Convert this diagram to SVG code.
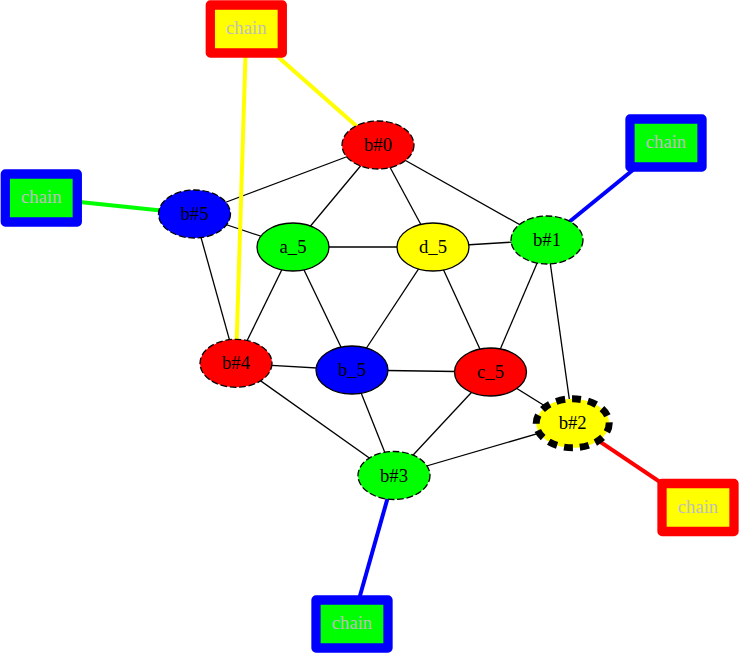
<svg xmlns="http://www.w3.org/2000/svg" width="739" height="653" viewBox="0 0 739 653">
<style>
.e{stroke:#000;stroke-width:1.3;fill:none}
.ce{stroke-width:4;fill:none}
.n ellipse{stroke:#000;stroke-width:1.3}
.d ellipse{stroke-dasharray:6.7,2.7}
.box rect{stroke-width:9.3;stroke-linejoin:round}
.t text{font-family:'Liberation Serif',serif;font-size:18.67px;text-anchor:middle}
.box text{fill:#bebebe}
</style>
<rect width="739" height="653" fill="#fff"/>
<g id="edges">
<line class="e" x1="378" y1="145" x2="194.5" y2="214"/>
<line class="e" x1="378" y1="145" x2="293" y2="247"/>
<line class="e" x1="378" y1="145" x2="433" y2="247"/>
<line class="e" x1="378" y1="145" x2="547" y2="240"/>
<line class="e" x1="194.5" y1="214" x2="293" y2="247"/>
<line class="e" x1="194.5" y1="214" x2="236" y2="363.3"/>
<line class="e" x1="293" y1="247" x2="433" y2="247"/>
<line class="e" x1="293" y1="247" x2="236" y2="363.3"/>
<line class="e" x1="293" y1="247" x2="352" y2="370"/>
<line class="e" x1="433" y1="247" x2="547" y2="240"/>
<line class="e" x1="433" y1="247" x2="352" y2="370"/>
<line class="e" x1="433" y1="247" x2="490.5" y2="372"/>
<line class="e" x1="547" y1="240" x2="490.5" y2="372"/>
<line class="e" x1="547" y1="240" x2="572.7" y2="423.3"/>
<line class="e" x1="236" y1="363.3" x2="352" y2="370"/>
<line class="e" x1="236" y1="363.3" x2="394" y2="475.5"/>
<line class="e" x1="352" y1="370" x2="490.5" y2="372"/>
<line class="e" x1="352" y1="370" x2="394" y2="475.5"/>
<line class="e" x1="490.5" y1="372" x2="394" y2="475.5"/>
<line class="e" x1="490.5" y1="372" x2="572.7" y2="423.3"/>
<line class="e" x1="394" y1="475.5" x2="572.7" y2="423.3"/>
<line class="ce" stroke="#ffff00" x1="246.3" y1="29" x2="378" y2="145"/>
<line class="ce" stroke="#ffff00" x1="246.3" y1="29" x2="236" y2="363.3"/>
<line class="ce" stroke="#00ff00" x1="41.3" y1="198" x2="194.5" y2="214"/>
<line class="ce" stroke="#0000ff" x1="666" y1="143" x2="547" y2="240"/>
<line class="ce" stroke="#ff0000" x1="572.7" y1="423.3" x2="698" y2="507.5"/>
<line class="ce" stroke="#0000ff" x1="394" y1="475.5" x2="352" y2="624"/>
</g>
<g class="t" font-family="Liberation Serif, serif">
<g id="b0" class="n d"><ellipse cx="378" cy="145" rx="36" ry="24" fill="#ff0000"/><text x="378" y="151">b#0</text></g>
<g id="b5" class="n d"><ellipse cx="194.5" cy="214" rx="36" ry="24" fill="#0000ff"/><text x="194.5" y="220">b#5</text></g>
<g id="a_5" class="n"><ellipse cx="293" cy="247" rx="36" ry="24" fill="#00ff00"/><text x="293" y="253">a_5</text></g>
<g id="d_5" class="n"><ellipse cx="433" cy="247" rx="36" ry="24" fill="#ffff00"/><text x="433" y="253">d_5</text></g>
<g id="b1" class="n d"><ellipse cx="547" cy="240" rx="36" ry="24" fill="#00ff00"/><text x="547" y="246">b#1</text></g>
<g id="b4" class="n d"><ellipse cx="236" cy="363.3" rx="36" ry="24" fill="#ff0000"/><text x="236" y="369.3">b#4</text></g>
<g id="b_5" class="n"><ellipse cx="352" cy="370" rx="36" ry="24" fill="#0000ff"/><text x="352" y="376">b_5</text></g>
<g id="c_5" class="n"><ellipse cx="490.5" cy="372" rx="36" ry="24" fill="#ff0000"/><text x="490.5" y="378">c_5</text></g>
<g id="b3" class="n d"><ellipse cx="394" cy="475.5" rx="36" ry="24" fill="#00ff00"/><text x="394" y="481.5">b#3</text></g>
<g id="b2" class="n"><ellipse cx="572.7" cy="423.3" rx="36.5" ry="24.5" fill="#ffff00" style="stroke-width:7;stroke-dasharray:9,7"/><text x="572.7" y="429.3">b#2</text></g>
<g id="chain_top" class="box"><rect x="210.3" y="5" width="72" height="48" fill="#ffff00" stroke="#ff0000"/><text x="246.3" y="34">chain</text></g>
<g id="chain_left" class="box"><rect x="5.3" y="174" width="72" height="48" fill="#00ff00" stroke="#0000ff"/><text x="41.3" y="203">chain</text></g>
<g id="chain_right_top" class="box"><rect x="630" y="119" width="72" height="48" fill="#00ff00" stroke="#0000ff"/><text x="666" y="148">chain</text></g>
<g id="chain_right_bottom" class="box"><rect x="662" y="483.5" width="72" height="48" fill="#ffff00" stroke="#ff0000"/><text x="698" y="512.5">chain</text></g>
<g id="chain_bottom" class="box"><rect x="316" y="600" width="72" height="48" fill="#00ff00" stroke="#0000ff"/><text x="352" y="629">chain</text></g>
</g>
</svg>
